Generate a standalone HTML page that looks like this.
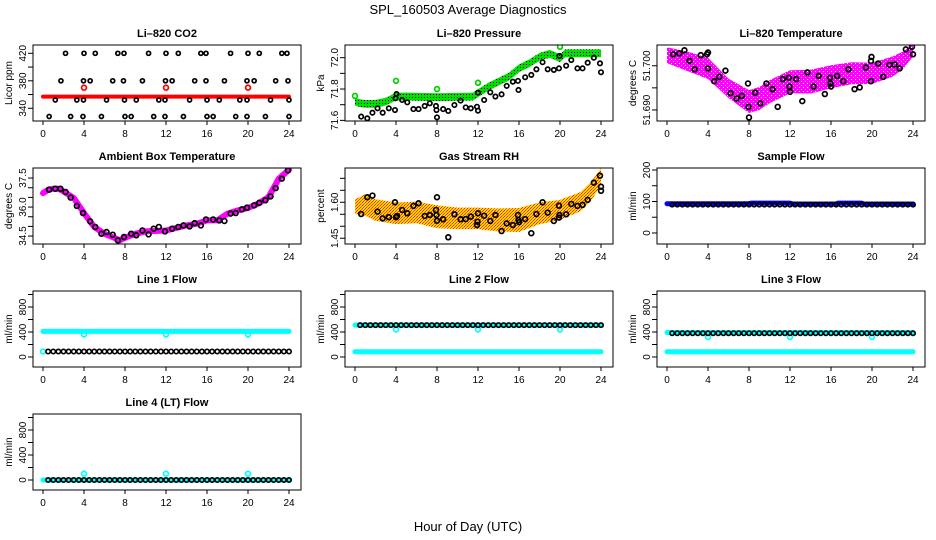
<!DOCTYPE html>
<html><head><meta charset="utf-8"><style>
body{margin:0;background:#fff;}
svg{display:block;font-family:"Liberation Sans",Arial,sans-serif;}
</style></head><body>
<svg id="chart" width="936" height="540" viewBox="0 0 936 540" xmlns="http://www.w3.org/2000/svg">
<defs>
<pattern id="pGreen" width="3" height="3" patternUnits="userSpaceOnUse"><rect width="3" height="3" fill="#00e000"/><rect x="1" y="1" width="1" height="1" fill="#000"/></pattern>
<pattern id="pOrange" width="3" height="3" patternUnits="userSpaceOnUse"><rect width="3" height="3" fill="#ffd400"/><rect width="1" height="1" fill="#f03000"/><rect x="2" y="1" width="1" height="1" fill="#f03000"/><rect x="1" y="2" width="1" height="1" fill="#f06000"/></pattern>
<pattern id="pMagenta" width="4" height="4" patternUnits="userSpaceOnUse"><rect width="4" height="4" fill="#ff00ff"/><rect x="1" y="1" width="1" height="1" fill="#ffb0ff"/><rect x="3" y="3" width="1" height="1" fill="#ffffff"/></pattern>
</defs>
<text x="468" y="14" text-anchor="middle" font-size="13">SPL_160503  Average Diagnostics</text>
<text x="468" y="531" text-anchor="middle" font-size="13">Hour of Day (UTC)</text>
</svg>
<script>
// ---- data ----
const xTicks = [0,4,8,12,16,20,24];
const co2BlackHours = [2.2,4.0,5.1,7.3,7.9,10.3,12.0,13.2,15.4,15.9,18.3,20.0,21.1,23.3,23.8, 1.75,3.95,4.6,6.8,7.85,9.7,11.95,12.6,14.8,15.9,17.7,19.9,20.6,22.7,23.9, 1.2,3.3,3.95,6.2,7.95,9.1,11.3,11.9,14.3,16.0,17.2,19.2,19.9,22.2,24.0, 0.6,2.7,3.9,5.7,8.0,8.6,10.8,11.9,13.7,16.0,16.6,18.8,19.9,21.7,24.0];
const co2BlackValues = [420,420,420,420,420,420,420,420,420,420,420,420,420,420,420, 380,380,380,380,380,380,380,380,380,380,380,380,380,380,380, 352,352,352,352,352,352,352,352,352,352,352,352,352,352,352, 328,328,328,328,328,328,328,328,328,328,328,328,328,328,328];
const co2RedHours = [0,24];
const co2RedValues = [357,357];
const co2RedOutHours = [4,12,20];
const co2RedOutValues = [370,370,370];

const presGreenHours = [0,0.5,1,2,3,4,5,8,11.5,12,13,14,15,16,17,18,19,20,20.5,21,24];
const presGreenValues = [71.72,71.71,71.705,71.705,71.72,71.752,71.752,71.748,71.752,71.773,71.815,71.847,71.879,71.932,71.964,72.005,72.025,71.996,72.028,72.028,72.028];
const presGreenOutHours = [0,4,8,12,20];
const presGreenOutValues = [71.756,71.852,71.80,71.84,72.07];
const presBlackHours = [0.6,1.2,1.7,2.2,2.7,3.3,3.9,3.95,4.05,4.6,5.1,5.7,6.2,6.8,7.3,7.9,7.95,8.0,8.6,9.1,9.7,10.3,10.8,11.3,11.9,12.0,12.0,12.6,13.2,13.7,14.3,14.8,15.4,15.9,15.95,16.6,17.2,17.7,18.3,18.8,19.4,19.9,19.95,20.6,21.1,21.7,22.2,22.7,23.3,23.9,24.0];
const presBlackValues = [71.624,71.613,71.649,71.677,71.649,71.677,71.666,71.741,71.768,71.730,71.715,71.672,71.672,71.692,71.709,71.692,71.666,71.619,71.672,71.660,71.698,71.726,71.683,71.677,71.687,71.662,71.777,71.730,71.779,71.752,71.766,71.820,71.847,71.852,71.794,71.875,71.890,71.926,71.971,71.926,71.922,71.932,72.011,71.949,71.985,71.932,71.932,71.968,72.0,71.964,71.907];

const ltHours = [0,2,4,6,8,9,10,12,14,16,18,20,22,23,24];
const ltCenter = [51.7024,51.7010,51.6994,51.6949,51.6919,51.6926,51.6941,51.6964,51.6964,51.6975,51.6983,51.6983,51.6998,51.7012,51.7035];
const ltSpread = [0.0018,0.0022,0.0024,0.0022,0.0026,0.0026,0.0026,0.0026,0.0027,0.0026,0.0025,0.0024,0.0023,0.0020,0.0014];
const ltBlackHours = [0.6,1.2,1.7,2.2,2.7,3.3,3.9,4.0,4.0,4.6,5.1,5.7,6.2,6.8,7.3,7.9,7.95,8.0,8.6,9.1,9.7,10.3,10.8,11.3,11.9,11.95,12.0,12.6,13.2,13.7,14.3,14.8,15.4,15.9,15.95,16.0,16.6,17.2,17.7,18.3,18.8,19.4,19.9,19.9,19.95,20.6,21.1,21.7,22.2,22.7,23.3,23.9,24.0];
const ltBlackValues = [51.7026,51.7028,51.7035,51.7011,51.6992,51.7024,51.7026,51.7030,51.6994,51.6965,51.6975,51.6989,51.6938,51.6926,51.6932,51.6960,51.6907,51.6883,51.6939,51.6915,51.6960,51.6947,51.6907,51.6970,51.6973,51.6953,51.6941,51.6970,51.6920,51.6985,51.6953,51.6977,51.6936,51.6973,51.6960,51.6953,51.6977,51.6965,51.6992,51.6947,51.6951,51.6996,51.6965,51.7011,51.7020,51.7005,51.6975,51.7002,51.7003,51.6994,51.7037,51.7043,51.7026];

const ambHours = [0,0.5,1,1.5,2,3,4,5,6,7,7.5,8,9,10,12,14,15,16,17,18,19,20,21,22,22.5,23,24];
const ambValues = [36.72,36.90,36.95,36.95,36.81,36.47,35.69,34.97,34.62,34.40,34.28,34.41,34.62,34.74,34.79,35.05,35.14,35.31,35.31,35.66,35.83,35.95,36.18,36.52,36.98,37.47,37.93];
const ambBlackHours = [0.6,1.2,1.7,2.2,2.7,3.3,3.9,4.6,5.1,5.7,6.2,6.8,7.3,7.9,8.6,9.1,9.7,10.3,10.8,11.3,11.9,12.6,13.2,13.7,14.3,14.8,15.4,15.9,16.6,17.2,17.7,18.3,18.8,19.4,19.9,20.6,21.1,21.7,22.2,22.7,23.3,23.9];
const ambBlackValues = [36.90,36.95,36.95,36.78,36.49,36.06,35.69,35.26,34.97,34.62,34.71,34.57,34.28,34.45,34.62,34.54,34.79,34.59,34.88,34.97,34.74,34.88,34.97,35.05,35.00,35.17,35.05,35.36,35.36,35.31,35.28,35.66,35.69,35.88,35.97,36.09,36.22,36.35,36.55,36.98,37.47,37.90];

const rhHours = [0,1,2,4,6,8,10,12,14,16,18,20,22,23,24];
const rhCenter = [1.582,1.589,1.568,1.554,1.558,1.540,1.533,1.533,1.526,1.526,1.554,1.568,1.603,1.644,1.707];
const rhSpread = [0.030,0.045,0.045,0.045,0.045,0.048,0.045,0.045,0.048,0.050,0.045,0.042,0.040,0.040,0.035];
const rhBlackHours = [0.6,1.2,1.7,2.2,2.7,3.3,3.9,4.0,4.1,4.6,5.1,5.7,6.2,6.8,7.3,7.9,7.95,8.0,8.0,8.6,9.1,9.7,10.3,10.8,11.3,11.9,11.95,12.0,12.6,13.2,13.7,14.3,14.8,15.4,15.9,15.95,16.0,16.6,17.2,17.7,18.3,18.8,19.4,19.9,19.9,19.95,20.6,21.1,21.7,22.2,22.7,23.3,23.9,24.0,24.0];
const rhBlackValues = [1.551,1.621,1.628,1.561,1.533,1.538,1.600,1.538,1.543,1.568,1.554,1.585,1.596,1.543,1.547,1.568,1.547,1.523,1.621,1.529,1.454,1.550,1.529,1.530,1.540,1.505,1.519,1.554,1.544,1.522,1.547,1.480,1.512,1.505,1.547,1.526,1.517,1.530,1.471,1.551,1.600,1.557,1.522,1.586,1.536,1.547,1.550,1.593,1.585,1.589,1.610,1.682,1.711,1.665,1.648];

const flowHours = [0.5,1,1.5,2,2.5,3,3.5,4,4.5,5,5.5,6,6.5,7,7.5,8,8.5,9,9.5,10,10.5,11,11.5,12,12.5,13,13.5,14,14.5,15,15.5,16,16.5,17,17.5,18,18.5,19,19.5,20,20.5,21,21.5,22,22.5,23,23.5,24];
const sampleBlack = [90,90,90,90,90,90,90,90,90,90,90,90,90,90,90,90,90,90,90,90,90,90,90,90,90,90,90,90,90,90,90,90,90,90,90,90,90,90,90,90,90,90,90,90,90,90,90,90];
const sampleBlueHours = [0,8,8.2,12,12.3,16.5,16.7,19,19.2,24];
const sampleBlueValues = [93,93,95,95,92,92,95,95,92,92];
const line1Black = [88,88,88,88,88,88,88,88,88,88,88,88,88,88,88,88,88,88,88,88,88,88,88,88,88,88,88,88,88,88,88,88,88,88,88,88,88,88,88,88,88,88,88,88,88,88,88,88];
const line1CyanHours = [0,24];
const line1CyanValues = [410,410];
const line1CyanOutHours = [0,4,12,20];
const line1CyanOutValues = [88,360,360,360];
const line2Black = [510,510,510,510,510,510,510,510,510,510,510,510,510,510,510,510,510,510,510,510,510,510,510,510,510,510,510,510,510,510,510,510,510,510,510,510,510,510,510,510,510,510,510,510,510,510,510,510];
const line2CyanHours = [0,24];
const line2CyanValues = [510,510];
const line2CyanLowValues = [85,85];
const line2CyanOutHours = [4,12,20];
const line2CyanOutValues = [440,440,440];
const line3Black = [380,380,380,380,380,380,380,380,380,380,380,380,380,380,380,380,380,380,380,380,380,380,380,380,380,380,380,380,380,380,380,380,380,380,380,380,380,380,380,380,380,380,380,380,380,380,380,380];
const line3CyanHours = [0,24];
const line3CyanValues = [392,392];
const line3CyanLowValues = [85,85];
const line3CyanOutHours = [4,12,20];
const line3CyanOutValues = [320,320,320];
const line4Black = [0,0,0,0,0,0,0,0,0,0,0,0,0,0,0,0,0,0,0,0,0,0,0,0,0,0,0,0,0,0,0,0,0,0,0,0,0,0,0,0,0,0,0,0,0,0,0,0];
const line4CyanHours = [0,24];
const line4CyanValues = [0,0];
const line4CyanOutHours = [4,12,20];
const line4CyanOutValues = [100,100,100];

// ---- drawing ----
const NS = "http://www.w3.org/2000/svg";
const svg = document.getElementById('chart');
function mk(tag, attrs, parent){const e=document.createElementNS(NS,tag);for(const k in attrs)e.setAttribute(k,attrs[k]);(parent||svg).appendChild(e);return e;}

function makePanel(name, col, row, ymin, ymax, ticks, labels, ylab, title){
  const off = col*312, top = [45,168,291,414][row], h = 76;
  const P = {off, top, h, ymin, ymax};
  P.x = hr => off + 43 + hr*10.25;
  P.y = v => top + (ymax - v)/(ymax - ymin)*h;
  const g = mk('g', {});
  
  
  P.g = g;
  const clip = mk('clipPath', {id:'c'+name}, g);
  mk('rect', {x:off+33, y:top, width:268, height:h}, clip);
  P.data = mk('g', {'clip-path':'url(#c'+name+')'}, g);
  const t = mk('text', {x:off+167, y:top-8, 'text-anchor':'middle', 'font-size':11, 'font-weight':'bold'}, g);
  t.textContent = title;
  
  
  P.frame = () => {
    const b = mk('rect', {x:off+33, y:top, width:268, height:h, fill:'none', stroke:'#000', 'stroke-width':1}, g);
    
    
  };
  const xa = mk('g', {}, g);
  
  
  xTicks.forEach(v => {
    mk('line', {x1:P.x(v), x2:P.x(v), y1:top+h, y2:top+h+4, stroke:'#000'}, xa);
    const tx = mk('text', {x:P.x(v), y:top+h+16, 'text-anchor':'middle', 'font-size':10}, xa);
    tx.textContent = v;
  });
  const ya = mk('g', {}, g);
  
  
  ticks.forEach(v => {
    mk('line', {x1:off+33, x2:off+28, y1:P.y(v), y2:P.y(v), stroke:'#000'}, ya);
  });
  labels.forEach(v => {
    const yy = P.y(parseFloat(v));
    const tx = mk('text', {x:off+26, y:yy, 'text-anchor':'middle', 'font-size':10, transform:'rotate(-90 '+(off+26)+' '+yy+')'}, ya);
    tx.textContent = v;
  });
  const yt = mk('text', {x:off+12, y:top+h/2, 'text-anchor':'middle', 'font-size':10, transform:'rotate(-90 '+(off+12)+' '+(top+h/2)+')'}, g);
  yt.textContent = ylab;
  
  
  return P;
}
function points(P, hs, vs, color, nm, r){
  const g = mk('g', {}, P.data);
  
  
  hs.forEach((h,i) => mk('circle', {cx:P.x(h), cy:P.y(vs[i]), r:r||2.4, fill:'none', stroke:color, 'stroke-width':1.7}, g));
}
function line(P, hs, vs, color, width, nm){
  const d = hs.map((h,i)=>P.x(h).toFixed(1)+','+P.y(vs[i]).toFixed(1)).join(' ');
  const p = mk('polyline', {points:d, fill:'none', stroke:color, 'stroke-width':width, 'stroke-linejoin':'round', 'stroke-linecap':'round'}, P.data);
  
  
}
function band(P, hs, c, s, fill, nm){
  const up = hs.map((h,i)=>P.x(h).toFixed(1)+','+P.y(c[i]+s[i]).toFixed(1));
  const lo = hs.map((h,i)=>P.x(h).toFixed(1)+','+P.y(c[i]-s[i]).toFixed(1)).reverse();
  const p = mk('polygon', {points:up.concat(lo).join(' '), fill:fill}, P.data);
  
  
}

// Li-820 CO2
let P = makePanel('co2', 0, 0, 321.5, 432.1, [340,360,380,400,420], ['340','380','420'], 'Licor ppm', 'Li\u2013820 CO2');
line(P, co2RedHours, co2RedValues, '#ff0000', 4, 'co2-red-series');
points(P, co2RedOutHours, co2RedOutValues, '#ff0000', 'co2-red-points');
points(P, co2BlackHours, co2BlackValues, '#000', 'co2-black-points', 2);
P.frame();

// Pressure
P = makePanel('pressure', 1, 0, 71.596, 72.081, [71.6,71.7,71.8,71.9,72.0], ['71.6','71.8','72.0'], 'kPa', 'Li\u2013820 Pressure');
band(P, presGreenHours, presGreenValues, presGreenValues.map(()=>0.025), 'url(#pGreen)', 'pressure-green-series');
points(P, presGreenOutHours, presGreenOutValues, '#00d000', 'pressure-green-points');
points(P, presBlackHours, presBlackValues, '#000', 'pressure-black-points', 2.2);
P.frame();

// Li temperature
P = makePanel('litemp', 2, 0, 51.6875, 51.7047, [51.690,51.695,51.700], ['51.690','51.700'], 'degrees C', 'Li\u2013820 Temperature');
band(P, ltHours, ltCenter, ltSpread, 'url(#pMagenta)', 'litemp-magenta-series');
points(P, ltBlackHours, ltBlackValues, '#000', 'litemp-black-points', 2.4);
P.frame();

// Ambient box temperature
P = makePanel('ambient', 0, 1, 34.09, 38.02, [34.5,35,35.5,36,36.5,37,37.5], ['34.5','36.0','37.5'], 'degrees C', 'Ambient Box Temperature');
line(P, ambHours, ambValues, '#ff00ff', 6, 'ambient-magenta-series');
points(P, ambBlackHours, ambBlackValues, '#000', 'ambient-black-points', 2.4);
P.frame();

// Gas stream RH
P = makePanel('rh', 1, 1, 1.426, 1.743, [1.45,1.5,1.55,1.6,1.65,1.7], ['1.45','1.60'], 'percent', 'Gas Stream RH');
band(P, rhHours, rhCenter, rhSpread, 'url(#pOrange)', 'rh-orange-series');
points(P, rhBlackHours, rhBlackValues, '#000', 'rh-black-points', 2.4);
P.frame();

// Sample flow
P = makePanel('sample', 2, 1, -35, 206.3, [0,50,100,150,200], ['0','100','200'], 'ml/min', 'Sample Flow');
line(P, sampleBlueHours, sampleBlueValues, '#0000ff', 5, 'sample-blue-series');
points(P, flowHours, sampleBlack, '#000', 'sample-black-points', 2.2);
P.frame();

const fT = [0,200,400,600,800,1000], fL = ['0','400','800'];
// Line 1
P = makePanel('line1', 0, 2, -160, 1056, fT, fL, 'ml/min', 'Line 1 Flow');
line(P, line1CyanHours, line1CyanValues, '#00ffff', 5, 'line1-cyan-series');
points(P, line1CyanOutHours, line1CyanOutValues, '#00ffff', 'line1-cyan-points');
points(P, flowHours, line1Black, '#000', 'line1-black-points', 2.2);
P.frame();

// Line 2
P = makePanel('line2', 1, 2, -160, 1056, fT, fL, 'ml/min', 'Line 2 Flow');
line(P, line2CyanHours, line2CyanValues, '#00ffff', 5, 'line2-cyan-series');
line(P, line2CyanHours, line2CyanLowValues, '#00ffff', 5, 'line2-cyan-low-series');
points(P, line2CyanOutHours, line2CyanOutValues, '#00ffff', 'line2-cyan-points');
points(P, flowHours, line2Black, '#000', 'line2-black-points', 2.2);
P.frame();

// Line 3
P = makePanel('line3', 2, 2, -160, 1056, fT, fL, 'ml/min', 'Line 3 Flow');
line(P, line3CyanHours, line3CyanValues, '#00ffff', 5, 'line3-cyan-series');
line(P, line3CyanHours, line3CyanLowValues, '#00ffff', 5, 'line3-cyan-low-series');
points(P, line3CyanOutHours, line3CyanOutValues, '#00ffff', 'line3-cyan-points');
points(P, flowHours, line3Black, '#000', 'line3-black-points', 2.2);
P.frame();

// Line 4
P = makePanel('line4', 0, 3, -160, 1056, fT, fL, 'ml/min', 'Line 4 (LT) Flow');
line(P, line4CyanHours, line4CyanValues, '#00ffff', 5, 'line4-cyan-series');
points(P, line4CyanOutHours, line4CyanOutValues, '#00ffff', 'line4-cyan-points');
points(P, flowHours, line4Black, '#000', 'line4-black-points', 2.2);
P.frame();
</script>
</body></html>
